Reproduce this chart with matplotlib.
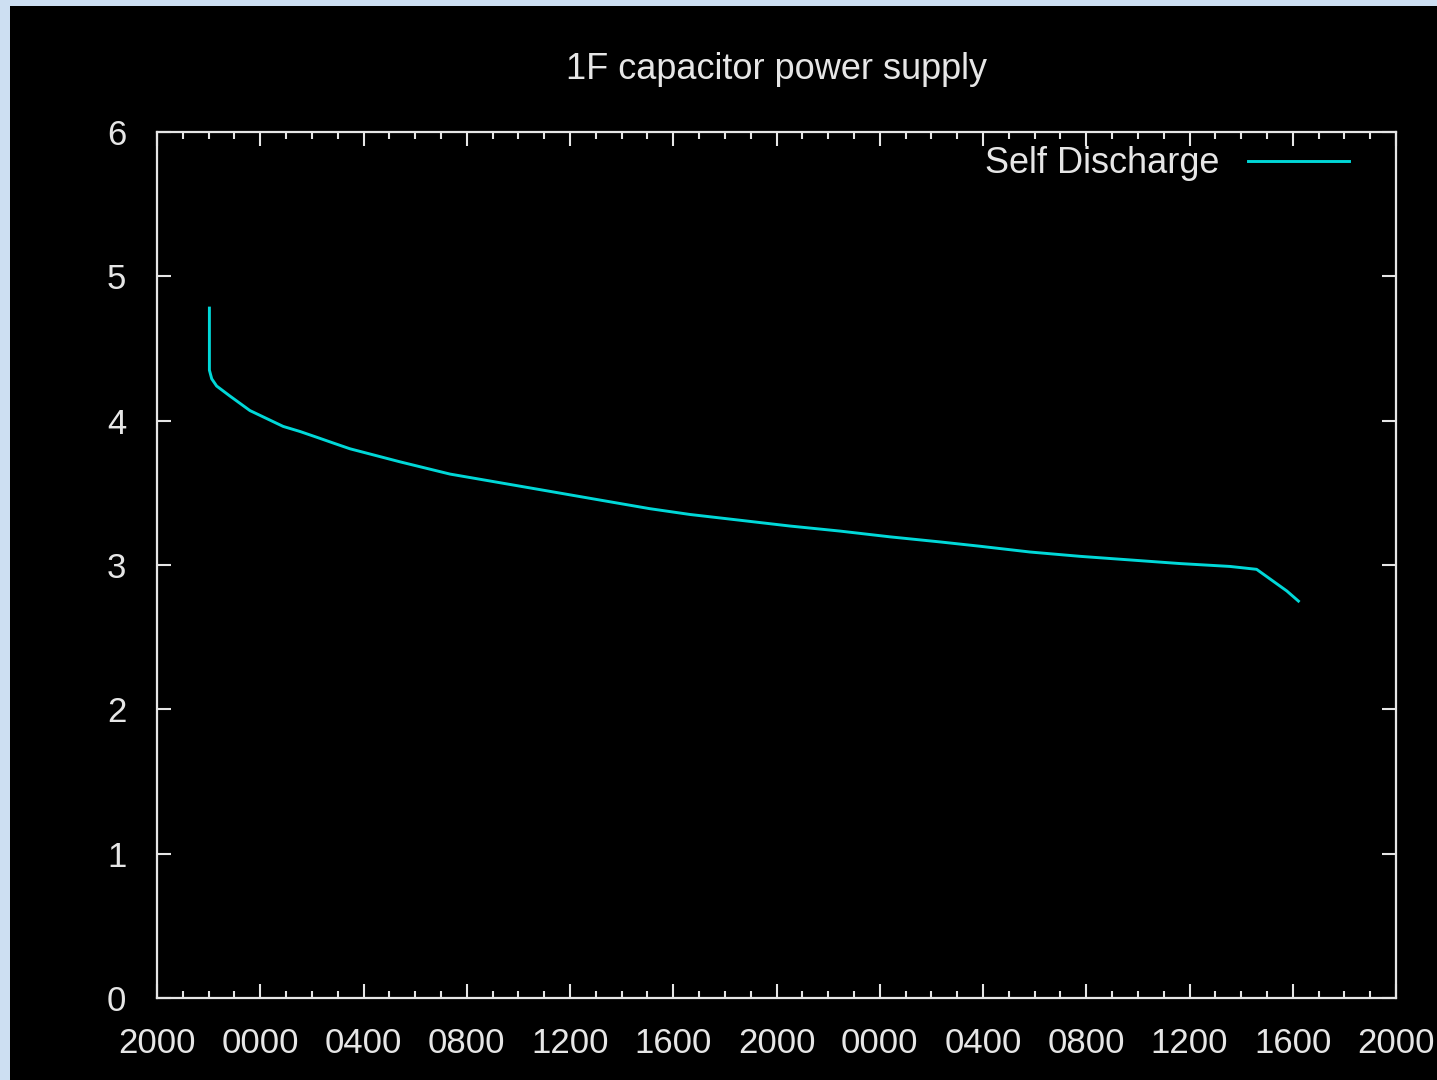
import matplotlib
matplotlib.use('Agg')
from matplotlib import pyplot as plt
from matplotlib.patches import Rectangle
from matplotlib.ticker import MultipleLocator, FuncFormatter

# hours since 20:00 on the first day, and capacitor voltage
hours = [2.03, 2.03, 2.12, 2.31, 2.83, 3.60, 4.89, 5.54, 6.19, 6.83, 7.48,
         9.41, 11.35, 15.23, 17.16, 19.10, 20.65, 22.59, 24.52, 26.46, 28.40,
         30.33, 31.88, 33.82, 35.76, 37.70, 39.63, 41.57, 42.60, 43.38, 43.77,
         44.22]
volts = [4.78, 4.35, 4.29, 4.24, 4.17, 4.07, 3.96, 3.925, 3.885, 3.845, 3.805,
         3.715, 3.63, 3.51, 3.45, 3.39, 3.35, 3.31, 3.27, 3.235, 3.195,
         3.16, 3.13, 3.09, 3.06, 3.035, 3.01, 2.99, 2.97, 2.87, 2.82,
         2.75]

start_hour = 20
fg = '#e6e6e6'
line_color = '#00d8d8'

plt.rcParams['font.family'] = 'Liberation Sans'

fig = plt.figure(figsize=(14.37, 10.8), dpi=100)
fig.patch.set_facecolor('#cddff2')
fig.patches.append(Rectangle((10 / 1437, 0), 1 - 10 / 1437, 1 - 6 / 1080,
                             transform=fig.transFigure, facecolor='black',
                             edgecolor='none', zorder=-10))

ax = fig.add_axes([157 / 1437, 82 / 1080, 1239 / 1437, 866 / 1080])
ax.set_facecolor('black')
ax.plot(hours, volts, color=line_color, linewidth=2.1, label='Self Discharge')

ax.set_xlim(0, 48)
ax.set_ylim(0, 6)
ax.xaxis.set_major_locator(MultipleLocator(4))
ax.xaxis.set_minor_locator(MultipleLocator(1))
ax.yaxis.set_major_locator(MultipleLocator(1))
ax.xaxis.set_major_formatter(FuncFormatter(
    lambda h, pos: '{:02d}00'.format(int(round(start_hour + h)) % 24)))

for s in ax.spines.values():
    s.set_color(fg)
    s.set_linewidth(1.6)

ax.tick_params(which='both', direction='in', top=True, right=True,
               color=fg, labelcolor=fg, labelsize=25)
ax.tick_params(which='major', length=10, width=1.5)
ax.tick_params(which='minor', length=5, width=1.5)
ax.tick_params(axis='x', pad=21)
ax.tick_params(axis='y', pad=22)

ax.set_title('1F capacitor power supply', color=fg, fontsize=26, pad=38)

leg = ax.legend(loc='upper right', bbox_to_anchor=(0.974, 1.0), frameon=False,
                markerfirst=False, fontsize=26, handlelength=2.8,
                handletextpad=0.8, borderaxespad=0.0)
for t in leg.get_texts():
    t.set_color(fg)

fig.savefig('out.png', dpi=100, facecolor=fig.get_facecolor())
